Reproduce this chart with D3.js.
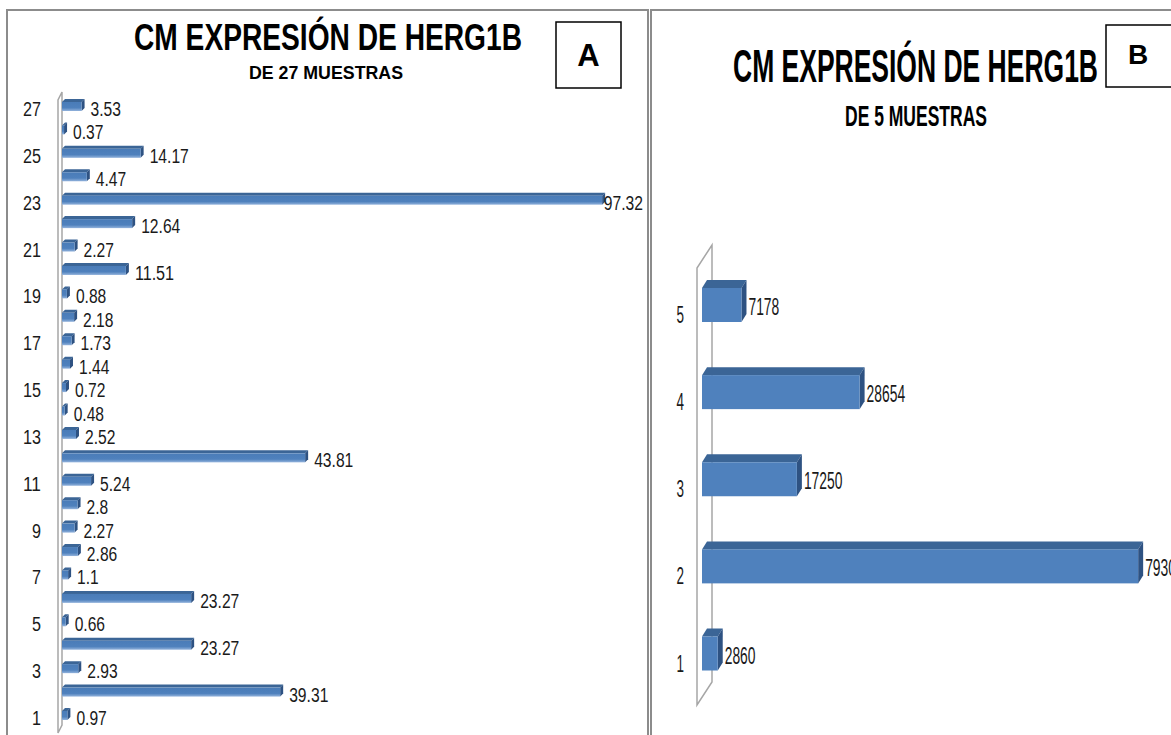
<!DOCTYPE html>
<html>
<head>
<meta charset="utf-8">
<script src="https://cdn.jsdelivr.net/npm/d3@7/dist/d3.min.js"></script>
<style>
  body { margin: 0; background: #fff; }
  svg { display: block; }
</style>
</head>
<body>
<svg id="chart" width="1171" height="735"></svg>
<script>
// Panel A: 27 samples (bottom to top)
const samplesA = [1, 2, 3, 4, 5, 6, 7, 8, 9, 10, 11, 12, 13, 14, 15, 16, 17, 18, 19, 20, 21, 22, 23, 24, 25, 26, 27];
const valuesA = [0.97, 39.31, 2.93, 23.27, 0.66, 23.27, 1.1, 2.86, 2.27, 2.8, 5.24, 43.81, 2.52, 0.48,
                 0.72, 1.44, 1.73, 2.18, 0.88, 11.51, 2.27, 12.64, 97.32, 4.47, 14.17, 0.37, 3.53];
const ticksA = [1, 3, 5, 7, 9, 11, 13, 15, 17, 19, 21, 23, 25, 27];

// Panel B: 5 samples
const samplesB = [1, 2, 3, 4, 5];
const valuesB = [2860, 79300, 17250, 28654, 7178];
const ticksB = [1, 2, 3, 4, 5];

const NARROW = "'Liberation Sans Narrow', 'Arial Narrow', 'Liberation Sans', Arial, sans-serif";
const BLUE = { front: '#4F81BD', top: '#3B6596', side: '#2E5282' };

const svg = d3.select('#chart');
const defs = svg.append('defs');

// light band at the bottom of the thin bars in A
const grad = defs.append('linearGradient')
    .attr('id', 'barA').attr('x1', 0).attr('y1', 0).attr('x2', 0).attr('y2', 1);
grad.append('stop').attr('offset', '0').attr('stop-color', '#4A7CB8');
grad.append('stop').attr('offset', '0.65').attr('stop-color', '#4F81BD');
grad.append('stop').attr('offset', '1').attr('stop-color', '#93B3DC');

// width of a number label, used to squeeze the narrow Calibri-like look
function labelWidth(s, digitW, dotW) {
    let w = 0;
    for (const c of s) w += (c === '.') ? dotW : digitW;
    return w;
}

/**
 * Draw one 3D horizontal bar panel
 */
function drawPanel(cfg) {
    const g = svg.append('g');

    const x = d3.scaleLinear().domain(cfg.xDomain).range(cfg.xRange);
    const y = d3.scalePoint().domain(cfg.samples.slice().reverse()).range(cfg.yRange);

    // back wall (thin 3D panel)
    const w = cfg.wall;
    g.append('path')
        .attr('d', `M${w.fx},${w.fy1}L${w.fx},${w.fy2}L${w.bx},${w.fy2 - w.dy}L${w.bx},${w.fy1 - w.dy}Z`)
        .attr('fill', 'none')
        .attr('stroke', '#A6A6A6')
        .attr('stroke-width', 1.5);

    const data = cfg.samples.map((s, i) => ({ s, v: cfg.values[i] }));
    const h = cfg.barH, dx = cfg.dx, dy = cfg.dy;

    const bars = g.selectAll('.bar').data(data).enter().append('g').attr('class', 'bar');

    bars.append('path')
        .attr('d', d => {
            const x0 = x(0), x1 = x(d.v), yt = y(d.s) + cfg.frontOff;
            return `M${x0},${yt}L${x0 + dx},${yt - dy}L${x1 + dx},${yt - dy}L${x1},${yt}Z`;
        })
        .attr('fill', BLUE.top);

    bars.append('path')
        .attr('d', d => {
            const x1 = x(d.v), yt = y(d.s) + cfg.frontOff;
            return `M${x1},${yt}L${x1 + dx},${yt - dy}L${x1 + dx},${yt + h - dy}L${x1},${yt + h}Z`;
        })
        .attr('fill', BLUE.side);

    bars.append('rect')
        .attr('x', x(0))
        .attr('y', d => y(d.s) + cfg.frontOff)
        .attr('width', d => Math.max(0.5, x(d.v) - x(0)))
        .attr('height', h)
        .attr('fill', cfg.frontFill);

    // value labels
    bars.append('text')
        .text(d => String(d.v))
        .each(function (d) {
            const s = String(d.v);
            const tw = labelWidth(s, cfg.digitW, cfg.dotW);
            let lx = x(d.v) + cfg.labelGap;
            if (lx + tw > cfg.labelMax) lx = cfg.labelMax - tw;
            d3.select(this)
                .attr('x', lx)
                .attr('y', y(d.s) + cfg.labelDy)
                .attr('textLength', tw)
                .attr('lengthAdjust', 'spacingAndGlyphs');
        })
        .attr('font-family', NARROW)
        .attr('font-size', cfg.fontSize)
        .attr('fill', '#1a1a1a');

    // category labels
    g.selectAll('.cat').data(cfg.ticks).enter().append('text')
        .attr('class', 'cat')
        .attr('x', cfg.catX)
        .attr('y', d => y(d) + cfg.catDy)
        .attr('text-anchor', 'end')
        .attr('textLength', d => String(d).length * cfg.catDigitW)
        .attr('lengthAdjust', 'spacingAndGlyphs')
        .attr('font-family', NARROW)
        .attr('font-size', cfg.fontSize)
        .attr('fill', '#1a1a1a')
        .text(d => d);
}

function drawTitle(t) {
    svg.append('text')
        .attr('x', t.x).attr('y', t.y)
        .attr('textLength', t.w)
        .attr('lengthAdjust', 'spacingAndGlyphs')
        .attr('font-family', NARROW)
        .attr('font-weight', 'bold')
        .attr('font-size', t.size)
        .attr('fill', '#000')
        .text(t.text);
}

function drawTag(t) {
    svg.append('rect')
        .attr('x', t.x).attr('y', t.y).attr('width', t.w).attr('height', t.h)
        .attr('fill', '#fff').attr('stroke', '#000').attr('stroke-width', 1.5);
    svg.append('text')
        .attr('x', t.cx).attr('y', t.by)
        .attr('text-anchor', 'middle')
        .attr('font-family', "'Liberation Sans', Arial, sans-serif")
        .attr('font-weight', 'bold')
        .attr('font-size', t.size)
        .text(t.text);
}

// panel frames
svg.append('path')
    .attr('d', 'M7,745L7,10L648,10L648,745')
    .attr('fill', 'none').attr('stroke', '#8C8C8C').attr('stroke-width', 2);
svg.append('path')
    .attr('d', 'M651,745L651,10L1180,10')
    .attr('fill', 'none').attr('stroke', '#8C8C8C').attr('stroke-width', 2);

// ---- Panel A ----
drawTitle({ text: 'CM EXPRESIÓN DE HERG1B', x: 134, y: 50, w: 388, size: 37 });
drawTitle({ text: 'DE 27 MUESTRAS', x: 249, y: 79, w: 154, size: 19 });
drawTag({ text: 'A', x: 556, y: 22, w: 65, h: 66, cx: 588.5, by: 66, size: 31 });

drawPanel({
    samples: samplesA, values: valuesA, ticks: ticksA,
    xDomain: [0, 100], xRange: [62, 617],
    yRange: [105, 714],
    wall: { fx: 58, bx: 62, fy1: 100, fy2: 733, dy: 8 },
    barH: 9, frontOff: -3, dx: 3, dy: 3,
    frontFill: 'url(#barA)',
    fontSize: 19.5, digitW: 8.8, dotW: 4, labelGap: 9, labelMax: 643, labelDy: 11,
    catX: 41, catDy: 11, catDigitW: 9
});

// ---- Panel B ----
drawTitle({ text: 'CM EXPRESIÓN DE HERG1B', x: 733, y: 82, w: 365, size: 47 });
drawTitle({ text: 'DE 5 MUESTRAS', x: 845, y: 126, w: 142, size: 29 });
drawTag({ text: 'B', x: 1106, y: 25, w: 80, h: 62, cx: 1138, by: 64, size: 28 });

drawPanel({
    samples: samplesB, values: valuesB, ticks: ticksB,
    xDomain: [0, 80000], xRange: [702, 1142],
    yRange: [305, 653.5],
    wall: { fx: 697, bx: 712, fy1: 268, fy2: 705, dy: 23 },
    barH: 34, frontOff: -17, dx: 5, dy: 8,
    frontFill: BLUE.front,
    fontSize: 24, digitW: 7.7, dotW: 3.5, labelGap: 7, labelMax: 1189, labelDy: 10,
    catX: 684, catDy: 18, catDigitW: 7.5
});
</script>
</body>
</html>
